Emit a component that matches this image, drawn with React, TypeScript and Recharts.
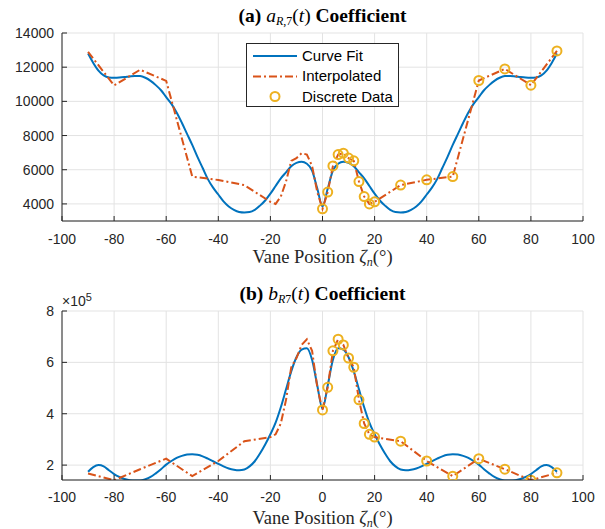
import { LineChart, Line, XAxis, YAxis, CartesianGrid } from 'recharts';

// vane positions for the smooth curve fit (read every 2 degrees)
const fitX = [
  -90, -88, -86, -84, -82, -80, -78, -76, -74, -72, -70, -68, -66, -64, -62, -60, -58, -56, -54, -52,
  -50, -48, -46, -44, -42, -40, -38, -36, -34, -32, -30, -28, -26, -24, -22, -20, -18, -16, -14, -12,
  -10, -8, -6, -4, -2, 0, 2, 4, 6, 8, 10, 12, 14, 16, 18, 20, 22, 24, 26, 28, 30, 32, 34, 36, 38, 40,
  42, 44, 46, 48, 50, 52, 54, 56, 58, 60, 62, 64, 66, 68, 70, 72, 74, 76, 78, 80, 82, 84, 86, 88, 90,
];
const fitA = [
  12800, 12250, 11800, 11520, 11400, 11380, 11390, 11420, 11460, 11490, 11480, 11380, 11200, 10950, 10650, 10250, 9850, 9350, 8750, 8100,
  7450, 6750, 6100, 5450, 4950, 4550, 4150, 3850, 3650, 3530, 3500, 3520, 3650, 3900, 4200, 4600, 5050, 5500, 5850, 6200,
  6400, 6460, 6350, 5950, 4900, 3850, 4900, 5950, 6350, 6460, 6400, 6200, 5850, 5500, 5050, 4600, 4200, 3900, 3650, 3520, 3500, 3530, 3650, 3850, 4150, 4550,
  4950, 5450, 6100, 6750, 7450, 8100, 8750, 9350, 9850, 10250, 10650, 10950, 11200, 11380, 11480, 11490, 11460, 11420, 11390, 11380, 11400, 11520, 11800, 12250, 12800,
];
const fitB = [
  174000, 192000, 200000, 195000, 180000, 165000, 154000, 146000, 141000, 140000, 140000, 145000, 154000, 168000, 184000, 202000, 216000, 228000, 236000, 241000,
  242000, 240000, 234000, 225000, 215000, 205000, 195000, 187000, 182000, 180000, 183000, 195000, 215000, 245000, 280000, 320000, 365000, 425000, 495000, 565000,
  620000, 650000, 655000, 610000, 510000, 419000, 510000, 610000, 655000, 650000, 620000, 565000, 495000, 425000, 365000, 320000, 280000, 245000, 215000, 195000, 183000, 180000, 182000, 187000, 195000, 205000,
  215000, 225000, 234000, 240000, 242000, 241000, 236000, 228000, 216000, 202000, 184000, 168000, 154000, 145000, 140000, 140000, 141000, 146000, 154000, 165000, 180000, 195000, 200000, 192000, 174000,
];

// interpolated series
const interpX = [-90, -80, -70, -60, -50, -40, -30, -20, -18, -16, -14, -12, -10, -8, -6, -4, -2, 0, 2, 4, 6, 8, 10, 12, 14, 16, 18, 20, 30, 40, 50, 60, 70, 80, 90];
const interpA = [12900, 10930, 11850, 11200, 5600, 5400, 5100, 4120, 4000, 4430, 5310, 6520, 6680, 6970, 6890, 6220, 4690, 3710, 4690, 6220, 6890, 6970, 6680, 6520, 5310, 4430, 4000, 4120, 5100, 5410, 5600, 11220, 11900, 10950, 12950];
const interpB = [167000, 141000, 184000, 225000, 157000, 216000, 293000, 309000, 320000, 362000, 454000, 581000, 617000, 668000, 690000, 645000, 503000, 415000, 503000, 645000, 690000, 668000, 617000, 581000, 454000, 362000, 320000, 309000, 293000, 216000, 157000, 225000, 184000, 141000, 170000];

// discrete measured data
const discX = [0, 2, 4, 6, 8, 10, 12, 14, 16, 18, 20, 30, 40, 50, 60, 70, 80, 90];
const discA = [3710, 4690, 6220, 6890, 6970, 6680, 6520, 5310, 4430, 4000, 4120, 5100, 5410, 5600, 11220, 11900, 10950, 12950];
const discB = [415000, 503000, 645000, 690000, 668000, 617000, 581000, 454000, 362000, 320000, 309000, 293000, 216000, 157000, 225000, 184000, 141000, 170000];

const xTicks = [-100, -80, -60, -40, -20, 0, 20, 40, 60, 80, 100];
const yTicksA = [4000, 6000, 8000, 10000, 12000, 14000];
const yTicksB = [200000, 400000, 600000, 800000];

const BLUE = '#0072BD';
const ORANGE = '#D95319';
const YELLOW = '#EDB120';
const AX = '#262626';
const SANS = '"Liberation Sans", Arial, Helvetica, sans-serif';
const SERIF = '"Liberation Serif", "Times New Roman", serif';
const DASH = '8 3 2 3';

const zip = (xs: number[], ys: number[]) => xs.map((x, i) => ({ x, v: ys[i] }));

const bottomTick = (labelDy: number) => (p: any) => (
  <g>
    <line x1={p.x} x2={p.x} y1={p.y} y2={p.y - 5} stroke={AX} />
    <text x={p.x} y={p.y + labelDy} textAnchor="middle" fontSize={14} fill={AX} fontFamily={SANS}>
      {p.payload.value}
    </text>
  </g>
);
const topTick = (p: any) => <line x1={p.x} x2={p.x} y1={p.y} y2={p.y + 5} stroke={AX} />;
const leftTick = (fmt: (v: number) => string) => (p: any) => (
  <g>
    <line x1={p.x} x2={p.x + 5} y1={p.y} y2={p.y} stroke={AX} />
    <text x={p.x - 8} y={p.y + 5} textAnchor="end" fontSize={14} fill={AX} fontFamily={SANS}>
      {fmt(p.payload.value)}
    </text>
  </g>
);
const rightTick = (p: any) => <line x1={p.x} x2={p.x - 5} y1={p.y} y2={p.y} stroke={AX} />;

function Panel({ fit, interp, disc, yDomain, yTicks, fmt, top, height, marginTop, labelDy }: any) {
  return (
    <div style={{ position: 'absolute', left: 0, top }}>
      <LineChart width={605} height={height} margin={{ top: marginTop, right: 22, left: 5, bottom: 0 }}>
        <CartesianGrid stroke="#e3e3e3" />
        <XAxis dataKey="x" type="number" domain={[-100, 100]} ticks={xTicks} allowDataOverflow
          height={49} tickSize={0} tickMargin={0} tickLine={false} axisLine={{ stroke: AX }} tick={bottomTick(labelDy)} />
        <XAxis xAxisId="top" orientation="top" dataKey="x" type="number" domain={[-100, 100]} ticks={xTicks} allowDataOverflow
          height={0} tickSize={0} tickMargin={0} tickLine={false} axisLine={{ stroke: AX }} tick={topTick} />
        <YAxis type="number" domain={yDomain} ticks={yTicks} allowDataOverflow width={57}
          tickSize={0} tickMargin={0} tickLine={false} axisLine={{ stroke: AX }} tick={leftTick(fmt)} />
        <YAxis yAxisId="right" orientation="right" type="number" domain={yDomain} ticks={yTicks} allowDataOverflow width={0}
          tickSize={0} tickMargin={0} tickLine={false} axisLine={{ stroke: AX }} tick={rightTick} />
        <Line data={fit} dataKey="v" type="monotone" stroke={BLUE} strokeWidth={2} dot={false} activeDot={false} isAnimationActive={false} />
        <Line data={interp} dataKey="v" type="linear" stroke={ORANGE} strokeWidth={2} strokeDasharray={DASH} dot={false} activeDot={false} isAnimationActive={false} />
        <Line data={disc} dataKey="v" xAxisId="top" yAxisId="right" stroke="none" activeDot={false}
          dot={{ r: 4.5, stroke: YELLOW, strokeWidth: 2, fill: 'none' }} isAnimationActive={false} />
      </LineChart>
    </div>
  );
}

const sub = { fontSize: 12, verticalAlign: '-3px' } as const;
const textStyle = (top: number, size: number) => ({
  position: 'absolute' as const, left: 62, width: 521, top, textAlign: 'center' as const,
  fontFamily: SERIF, fontSize: size, lineHeight: '20px', color: '#000',
});

function XLabel({ top }: { top: number }) {
  return (
    <div style={{ ...textStyle(top, 18.5), color: AX }}>
      Vane Position <i>ζ</i><span style={sub}><i>n</i></span>(°)
    </div>
  );
}

export default function App() {
  return (
    <div style={{ position: 'absolute', left: 0, top: 0, width: 605, height: 529, background: '#fff', overflow: 'hidden' }}>
      <Panel fit={zip(fitX, fitA)} interp={zip(interpX, interpA)} disc={zip(discX, discA)}
        yDomain={[3000, 14000]} yTicks={yTicksA} fmt={(v: number) => String(v)} top={0} height={270} marginTop={33} labelDy={23} />
      <Panel fit={zip(fitX, fitB)} interp={zip(interpX, interpB)} disc={zip(discX, discB)}
        yDomain={[142000, 800000]} yTicks={yTicksB} fmt={(v: number) => String(v / 1e5)} top={270} height={259} marginTop={41} labelDy={22} />

      <div style={textStyle(6, 19.5)}>
        <b>(a)</b> <i>a</i><span style={sub}><i>R</i>,7</span>(<i>t</i>) <b>Coefficient</b>
      </div>
      <div style={textStyle(284, 19.5)}>
        <b>(b)</b> <i>b</i><span style={sub}><i>R</i>7</span>(<i>t</i>) <b>Coefficient</b>
      </div>
      <XLabel top={247} />
      <XLabel top={508} />
      <div style={{ position: 'absolute', left: 62, top: 289, fontFamily: SANS, fontSize: 14, lineHeight: '16px', color: AX }}>
        ×10<span style={{ fontSize: 11, verticalAlign: '5px' }}>5</span>
      </div>

      <div style={{ position: 'absolute', left: 246, top: 43, width: 153, height: 64, boxSizing: 'border-box', border: `1px solid ${AX}`, background: '#fff' }}>
        <svg width={151} height={62} style={{ position: 'absolute', left: 0, top: 0 }}>
          <line x1={6} x2={50} y1={12} y2={12} stroke={BLUE} strokeWidth={2} />
          <line x1={6} x2={50} y1={32.5} y2={32.5} stroke={ORANGE} strokeWidth={2} strokeDasharray={DASH} />
          <circle cx={28} cy={52.5} r={4.5} stroke={YELLOW} strokeWidth={2} fill="none" />
        </svg>
        {['Curve Fit', 'Interpolated', 'Discrete Data'].map((t, i) => (
          <div key={t} style={{ position: 'absolute', left: 55, top: 3 + i * 20.3, fontFamily: SANS, fontSize: 15, lineHeight: '18px', color: '#000', whiteSpace: 'nowrap' }}>
            {t}
          </div>
        ))}
      </div>
    </div>
  );
}
